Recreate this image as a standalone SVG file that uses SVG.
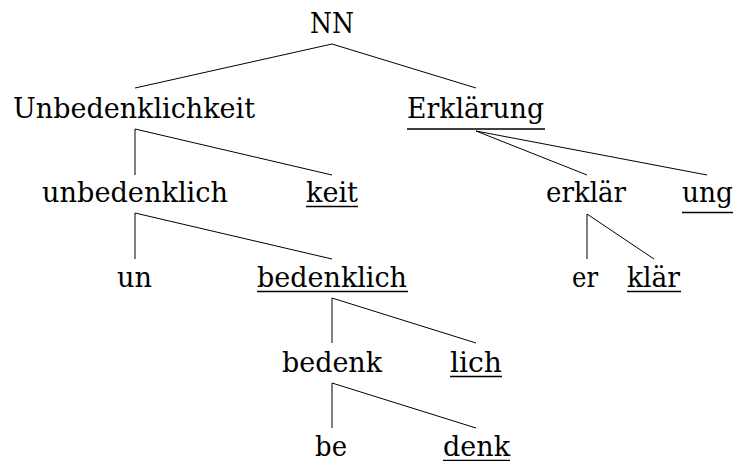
<svg xmlns="http://www.w3.org/2000/svg" width="736" height="461" viewBox="0 0 736 461">
  <style>
    .t { font-family: "DejaVu Serif", "Liberation Serif", serif; font-size: 28px; fill: #000; }
    .e { stroke: #000; stroke-width: 1; fill: none; }
    .u { stroke: #000; stroke-width: 1.7; }
  </style>
  <rect width="736" height="461" fill="#fff"/>

  <g id="edges">
    <line class="e" x1="332" y1="44" x2="135" y2="88"/>
    <line class="e" x1="332" y1="44" x2="476" y2="88"/>
    <line class="e" x1="135" y1="129" x2="135" y2="175"/>
    <line class="e" x1="135" y1="129" x2="332" y2="175"/>
    <line class="e" x1="476" y1="131" x2="587" y2="175"/>
    <line class="e" x1="476" y1="131" x2="707" y2="175"/>
    <line class="e" x1="135" y1="213" x2="135" y2="259"/>
    <line class="e" x1="135" y1="213" x2="332" y2="259"/>
    <line class="e" x1="587" y1="214" x2="587" y2="259"/>
    <line class="e" x1="587" y1="214" x2="654" y2="259"/>
    <line class="e" x1="332" y1="298" x2="332" y2="343"/>
    <line class="e" x1="332" y1="298" x2="476" y2="343"/>
    <line class="e" x1="332" y1="383" x2="332" y2="428"/>
    <line class="e" x1="332" y1="383" x2="476" y2="428"/>
  </g>

  <g id="n-NN"><text class="t" x="310" y="33" textLength="44" lengthAdjust="spacingAndGlyphs">NN</text></g>
  <g id="n-Unbedenklichkeit"><text class="t" x="13" y="117.5" textLength="242" lengthAdjust="spacingAndGlyphs">Unbedenklichkeit</text></g>
  <g id="n-Erklaerung">
    <text class="t" x="407" y="117.5" textLength="137" lengthAdjust="spacingAndGlyphs">Erklärung</text>
    <line class="u" x1="407" y1="129" x2="545" y2="129"/>
  </g>
  <g id="n-unbedenklich"><text class="t" x="42" y="202" textLength="186" lengthAdjust="spacingAndGlyphs">unbedenklich</text></g>
  <g id="n-keit">
    <text class="t" x="306" y="202" textLength="52" lengthAdjust="spacingAndGlyphs">keit</text>
    <line class="u" x1="306" y1="206.5" x2="358" y2="206.5"/>
  </g>
  <g id="n-erklaer"><text class="t" x="546" y="202" textLength="80" lengthAdjust="spacingAndGlyphs">erklär</text></g>
  <g id="n-ung">
    <text class="t" x="682" y="202" textLength="51" lengthAdjust="spacingAndGlyphs">ung</text>
    <line class="u" x1="682" y1="212.5" x2="733" y2="212.5"/>
  </g>
  <g id="n-un"><text class="t" x="117" y="287" textLength="35" lengthAdjust="spacingAndGlyphs">un</text></g>
  <g id="n-bedenklich">
    <text class="t" x="257" y="287" textLength="150" lengthAdjust="spacingAndGlyphs">bedenklich</text>
    <line class="u" x1="257" y1="291.5" x2="408" y2="291.5"/>
  </g>
  <g id="n-er"><text class="t" x="572" y="287" textLength="26" lengthAdjust="spacingAndGlyphs">er</text></g>
  <g id="n-klaer">
    <text class="t" x="627" y="287" textLength="53" lengthAdjust="spacingAndGlyphs">klär</text>
    <line class="u" x1="627" y1="291.5" x2="681" y2="291.5"/>
  </g>
  <g id="n-bedenk"><text class="t" x="282" y="372" textLength="100" lengthAdjust="spacingAndGlyphs">bedenk</text></g>
  <g id="n-lich">
    <text class="t" x="450" y="372" textLength="52" lengthAdjust="spacingAndGlyphs">lich</text>
    <line class="u" x1="450" y1="376.5" x2="502" y2="376.5"/>
  </g>
  <g id="n-be"><text class="t" x="315" y="456" textLength="32" lengthAdjust="spacingAndGlyphs">be</text></g>
  <g id="n-denk">
    <text class="t" x="443" y="456" textLength="67" lengthAdjust="spacingAndGlyphs">denk</text>
    <line class="u" x1="443" y1="460.5" x2="510" y2="460.5"/>
  </g>
</svg>
